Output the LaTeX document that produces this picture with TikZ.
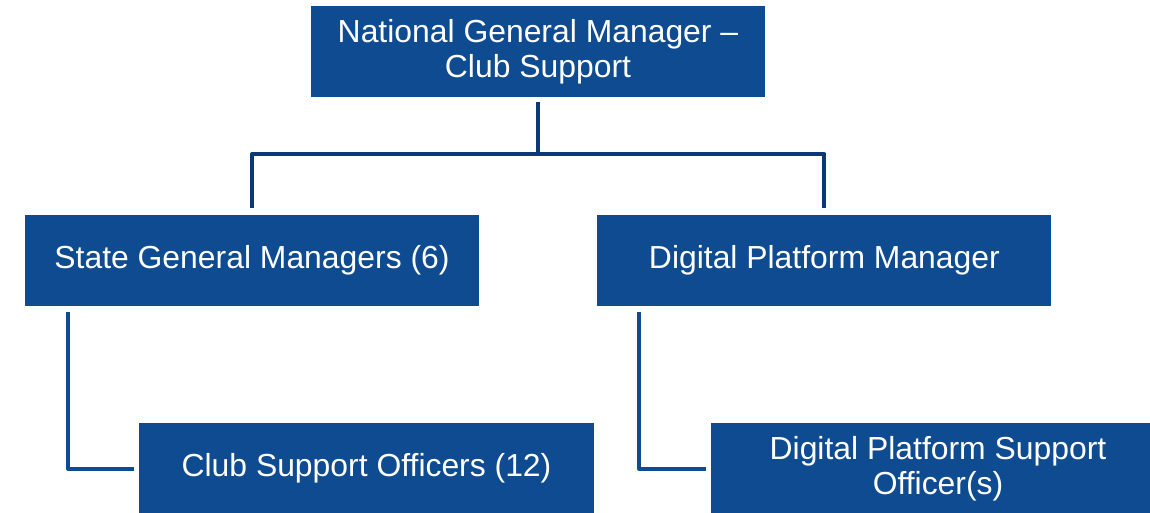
\documentclass[tikz,border=0pt]{standalone}
\usepackage{fontspec}
\setmainfont{Liberation Sans}
\usetikzlibrary{positioning}
\definecolor{boxblue}{RGB}{15,75,145}
\definecolor{lineblue}{RGB}{10,58,117}

\begin{document}
\begin{tikzpicture}[x=1bp,y=-1bp,
    role/.style={fill=boxblue,text=white,minimum width=454bp,minimum height=91bp,
                 inner sep=0pt,align=center,font=\fontsize{32}{35}\selectfont},
    link/.style={draw=lineblue,line width=4bp,line join=round,line cap=butt},
    sublink/.style={draw=boxblue,line width=4bp,line join=round}]

                \useasboundingbox[clip] (0,0) rectangle (1150,513);

                \node[role] (ngm) at (538,51.5) {National General Manager --\\Club Support};

                \node[role] (sgm) at (252,260.5) {State General Managers (6)};

                \node[role] (dpm) [right=118bp of sgm] {Digital Platform Manager};

                \node[role] (cso) at (366.5,468.5) {Club Support Officers (12)};

                \node[role] (dpso) at (938,468.5) {Digital Platform Support\\Officer(s)};

                

                \coordinate (bus) at (538,154);

                \draw[link] ([yshift=-5bp]ngm.south) -- (ngm.south |- bus);

                \draw[link] ([yshift=7bp]sgm.north) -- (sgm.north |- bus)
                            -- (dpm.north |- bus) -- ([yshift=7bp]dpm.north);

                \draw[sublink] ([xshift=43bp,yshift=-6bp]sgm.south west) |- ([xshift=-5bp]cso.west);

                \draw[sublink] ([xshift=42bp,yshift=-6bp]dpm.south west) |- ([xshift=-5bp]dpso.west);

            \end{tikzpicture}
\end{document}
